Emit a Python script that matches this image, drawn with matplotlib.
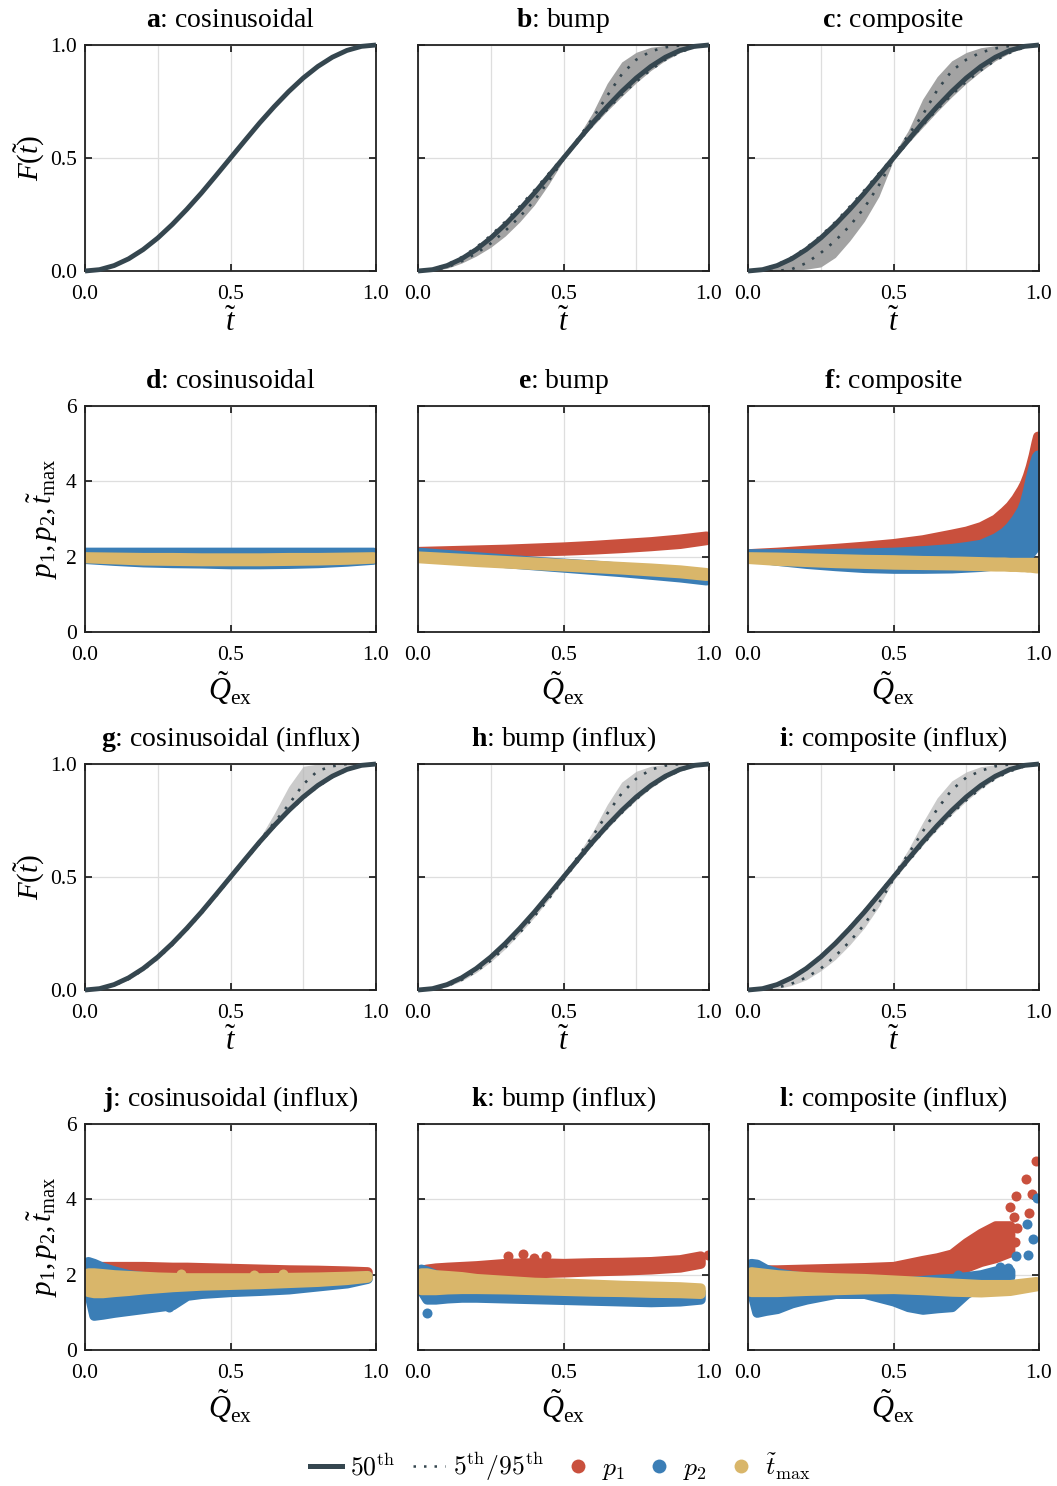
import matplotlib.pyplot as plt
from matplotlib.font_manager import FontProperties
from matplotlib.lines import Line2D
from matplotlib.ticker import FormatStrFormatter

plt.rcParams.update({
    "font.family": "Liberation Serif",
    "mathtext.fontset": "custom",
    "mathtext.rm": "Liberation Serif",
    "mathtext.it": "Liberation Serif:italic",
    "mathtext.bf": "Liberation Serif:bold",
})

MED = "#35464f"
C_P1 = "#c9503d"
C_P2 = "#3b7eb6"
C_TM = "#d9b66a"

# ---- CDF panels (a-c, g-i) ----
t_grid = [0, .05, .1, .15, .2, .25, .3, .35, .4, .45, .5,
          .55, .6, .65, .7, .75, .8, .85, .9, .95, 1]
median_cdf = [0, .006, .024, .054, .095, .146, .206, .273, .345, .422, .5,
              .578, .655, .727, .794, .854, .905, .946, .976, .994, 1]

b_env_hi = [0, .01, .032, .066, .11, .163, .225, .293, .364, .438, .51,
            .595, .70, .83, .925, .968, .99, .998, 1, 1, 1]
b_env_lo = [0, .002, .012, .035, .066, .105, .155, .218, .292, .385, .49,
            .57, .64, .708, .772, .833, .887, .932, .966, .99, 1]
b_q95 = [0, .008, .028, .061, .104, .157, .218, .286, .357, .432, .505,
         .585, .675, .775, .87, .935, .972, .99, .998, 1, 1]
b_q05 = [0, .003, .016, .043, .078, .122, .178, .24, .312, .4, .495,
         .572, .646, .715, .78, .838, .89, .935, .968, .991, 1]

c_env_hi = [0, .01, .03, .062, .105, .157, .22, .29, .362, .44, .515,
            .62, .76, .86, .93, .967, .988, .997, 1, 1, 1]
c_env_lo = [0, 0, 0, .002, .008, .018, .06, .134, .22, .33, .49,
            .565, .635, .705, .77, .83, .883, .93, .965, .99, 1]
c_q95 = [0, .008, .028, .06, .102, .155, .216, .285, .357, .432, .505,
         .6, .69, .8, .885, .935, .967, .985, .996, 1, 1]
c_q05 = [0, 0, 0, .008, .035, .08, .134, .2, .28, .38, .495,
         .57, .645, .715, .78, .838, .888, .932, .966, .99, 1]

g_env_hi = [0, .008, .028, .06, .102, .155, .216, .285, .357, .433, .51,
            .59, .67, .78, .9, .99, 1, 1, 1, 1, 1]
g_env_lo = [0, .003, .018, .045, .085, .135, .195, .262, .335, .412, .49,
            .568, .645, .718, .786, .846, .898, .94, .972, .992, 1]
g_q95 = [0, .006, .024, .054, .095, .146, .206, .273, .345, .422, .5,
         .58, .66, .74, .82, .91, .97, .99, 1, 1, 1]
g_q05 = [0, .004, .02, .049, .089, .14, .2, .267, .339, .416, .494,
         .572, .649, .722, .789, .849, .9, .942, .973, .993, 1]

h_env_hi = [0, .008, .028, .06, .102, .155, .217, .287, .36, .437, .515,
            .6, .7, .82, .92, .968, .99, .998, 1, 1, 1]
h_env_lo = [0, .002, .014, .04, .077, .125, .183, .25, .322, .402, .487,
            .567, .643, .713, .78, .84, .893, .936, .968, .99, 1]
h_q95 = [0, .006, .025, .056, .097, .148, .208, .275, .347, .425, .505,
         .59, .68, .78, .87, .935, .975, .993, 1, 1, 1]
h_q05 = [0, .004, .018, .045, .083, .13, .188, .254, .326, .405, .49,
         .57, .647, .718, .784, .845, .897, .94, .971, .992, 1]

i_env_hi = [0, .01, .03, .063, .106, .158, .22, .29, .362, .44, .515,
            .62, .74, .85, .925, .965, .988, .997, 1, 1, 1]
i_env_lo = [0, .001, .006, .02, .045, .085, .135, .2, .275, .37, .485,
            .565, .64, .71, .776, .836, .89, .934, .967, .99, 1]
i_q95 = [0, .007, .026, .057, .098, .15, .21, .278, .35, .428, .505,
         .6, .7, .8, .885, .94, .97, .99, .998, 1, 1]
i_q05 = [0, .002, .01, .028, .055, .095, .15, .215, .29, .385, .49,
         .568, .644, .715, .78, .84, .892, .936, .968, .99, 1]

# ---- parameter panels (d-f, j-l): lower/upper edge of each point cloud ----
d_x = [0, .1, .2, .3, .4, .5, .6, .7, .8, .9, .99]
d_p1_lo = [2.0, 2.0, 2.0, 2.0, 2.0, 2.0, 2.0, 2.0, 2.0, 2.0, 2.0]
d_p1_hi = [2.08, 2.08, 2.08, 2.08, 2.08, 2.08, 2.08, 2.08, 2.08, 2.08, 2.08]
d_p2_lo = [1.95, 1.9, 1.86, 1.84, 1.83, 1.81, 1.81, 1.82, 1.84, 1.88, 1.93]
d_p2_hi = [2.12, 2.12, 2.12, 2.12, 2.12, 2.12, 2.12, 2.12, 2.12, 2.12, 2.12]
d_tm_lo = [1.97, 1.94, 1.91, 1.9, 1.89, 1.89, 1.89, 1.9, 1.91, 1.93, 1.96]
d_tm_hi = [2.0, 1.99, 1.98, 1.98, 1.97, 1.97, 1.97, 1.98, 1.98, 1.99, 2.0]

e_x = [0, .1, .2, .3, .4, .5, .6, .7, .8, .9, .99]
e_p1_lo = [2.1, 2.1, 2.11, 2.13, 2.15, 2.17, 2.2, 2.24, 2.29, 2.35, 2.45]
e_p1_hi = [2.14, 2.16, 2.18, 2.2, 2.23, 2.26, 2.3, 2.35, 2.4, 2.47, 2.55]
e_p2_lo = [2.05, 1.98, 1.91, 1.84, 1.78, 1.72, 1.66, 1.6, 1.53, 1.46, 1.38]
e_p2_hi = [2.12, 2.06, 2.0, 1.94, 1.88, 1.83, 1.78, 1.72, 1.66, 1.6, 1.52]
e_tm_lo = [1.97, 1.92, 1.87, 1.83, 1.79, 1.75, 1.71, 1.67, 1.62, 1.57, 1.5]
e_tm_hi = [2.02, 1.98, 1.94, 1.9, 1.86, 1.82, 1.78, 1.74, 1.7, 1.65, 1.58]

f_x = [0, .1, .2, .3, .4, .5, .6, .7, .75, .8, .85, .88, .9, .92, .94,
       .95, .96, .97, .98, .99, .995]
f_p1_lo = [2.0, 2.0, 2.0, 2.0, 2.0, 2.0, 2.0, 2.0, 2.0, 2.0, 2.05, 2.1,
           2.15, 2.2, 2.3, 2.4, 2.5, 2.6, 2.8, 3.0, 3.3]
f_p1_hi = [2.08, 2.12, 2.17, 2.22, 2.28, 2.35, 2.45, 2.6, 2.68, 2.8, 3.0,
           3.2, 3.35, 3.55, 3.8, 3.95, 4.15, 4.4, 4.7, 5.05, 5.2]
f_p2_lo = [2.0, 1.9, 1.82, 1.76, 1.71, 1.69, 1.69, 1.7, 1.72, 1.74, 1.78,
           1.8, 1.83, 1.88, 1.92, 1.95, 2.0, 2.1, 2.2, 2.3, 2.4]
f_p2_hi = [2.08, 2.08, 2.08, 2.09, 2.1, 2.12, 2.16, 2.22, 2.27, 2.33, 2.5,
           2.65, 2.8, 3.0, 3.25, 3.45, 3.75, 4.1, 4.4, 4.65, 4.7]
f_tm_lo = [1.95, 1.9, 1.87, 1.84, 1.82, 1.8, 1.79, 1.78, 1.77, 1.76, 1.75,
           1.75, 1.74, 1.74, 1.73, 1.73, 1.72, 1.72, 1.71, 1.7, 1.7]
f_tm_hi = [2.0, 1.99, 1.97, 1.95, 1.93, 1.92, 1.9, 1.89, 1.88, 1.87, 1.86,
           1.86, 1.85, 1.85, 1.85, 1.85, 1.85, 1.85, 1.85, 1.85, 1.85]

j_x = [.01, .03, .06, .1, .15, .2, .25, .3, .35, .4, .5, .6, .7, .8, .9, .97]
j_p1_lo = [1.95, 1.95, 1.95, 1.95, 1.95, 1.95, 1.95, 1.95, 1.95, 1.95,
           1.95, 1.95, 1.97, 1.98, 2.0, 2.0]
j_p1_hi = [2.1, 2.2, 2.22, 2.22, 2.22, 2.22, 2.21, 2.2, 2.2, 2.19, 2.17,
           2.15, 2.13, 2.12, 2.1, 2.08]
j_p2_lo = [1.6, 0.92, 0.95, 1.0, 1.05, 1.1, 1.15, 1.2, 1.45, 1.5, 1.55,
           1.58, 1.62, 1.7, 1.78, 1.9]
j_p2_hi = [2.35, 2.3, 2.2, 2.1, 2.0, 1.95, 1.92, 1.9, 1.88, 1.87, 1.85,
           1.85, 1.86, 1.88, 1.92, 1.98]
j_tm_lo = [1.55, 1.52, 1.52, 1.55, 1.58, 1.62, 1.65, 1.68, 1.7, 1.72, 1.74,
           1.76, 1.79, 1.82, 1.87, 1.93]
j_tm_hi = [2.05, 2.05, 2.03, 2.0, 1.98, 1.96, 1.94, 1.93, 1.92, 1.92, 1.92,
           1.92, 1.93, 1.94, 1.96, 1.98]
j_p2_ex_x, j_p2_ex_y = [0.29], [1.15]
j_tm_ex_x, j_tm_ex_y = [0.33, 0.58, 0.68], [2.02, 2.0, 2.02]

k_x = [.01, .03, .06, .1, .15, .2, .3, .4, .5, .6, .7, .8, .9, .97]
k_p1_lo = [1.95, 1.95, 1.97, 2.0, 2.0, 2.0, 2.02, 2.05, 2.07, 2.1, 2.12,
           2.15, 2.2, 2.3]
k_p1_hi = [2.12, 2.15, 2.18, 2.2, 2.22, 2.24, 2.3, 2.32, 2.3, 2.32, 2.33,
           2.35, 2.4, 2.5]
k_p2_lo = [1.6, 1.35, 1.35, 1.38, 1.4, 1.4, 1.38, 1.36, 1.34, 1.32, 1.3,
           1.28, 1.3, 1.35]
k_p2_hi = [2.15, 2.1, 2.0, 1.9, 1.85, 1.8, 1.75, 1.7, 1.68, 1.65, 1.62,
           1.6, 1.58, 1.55]
k_tm_lo = [1.6, 1.6, 1.6, 1.62, 1.63, 1.63, 1.62, 1.6, 1.58, 1.56, 1.55,
           1.53, 1.52, 1.5]
k_tm_hi = [2.05, 2.05, 2.0, 1.98, 1.95, 1.9, 1.85, 1.8, 1.78, 1.75, 1.72,
           1.7, 1.68, 1.65]
k_p1_ex_x, k_p1_ex_y = [0.31, 0.36, 0.40, 0.44, 0.995], [2.5, 2.55, 2.45, 2.5, 2.52]
k_p2_ex_x, k_p2_ex_y = [0.03], [0.98]

l_x = [.01, .03, .06, .1, .15, .2, .3, .4, .5, .55, .6, .65, .7, .75, .8,
       .85, .9]
l_p1_lo = [1.95, 1.95, 1.97, 1.98, 1.98, 1.98, 1.98, 1.98, 1.98, 1.98,
           1.98, 2.0, 2.1, 2.2, 2.35, 2.45, 2.6]
l_p1_hi = [2.08, 2.13, 2.13, 2.13, 2.14, 2.15, 2.17, 2.19, 2.22, 2.3, 2.38,
           2.45, 2.55, 2.85, 3.1, 3.3, 3.3]
l_p2_lo = [1.6, 1.0, 1.05, 1.1, 1.25, 1.35, 1.5, 1.5, 1.3, 1.15, 1.08,
           1.12, 1.15, 1.5, 1.7, 1.85, 1.95]
l_p2_hi = [2.3, 2.28, 2.15, 2.05, 1.98, 1.92, 1.88, 1.85, 1.82, 1.82, 1.85,
           1.88, 1.9, 1.95, 2.0, 2.1, 2.1]
l_tm_x = [.01, .1, .2, .3, .4, .5, .6, .7, .8, .9, .99]
l_tm_lo = [1.55, 1.55, 1.58, 1.6, 1.62, 1.63, 1.6, 1.56, 1.54, 1.58, 1.7]
l_tm_hi = [2.08, 2.0, 1.95, 1.92, 1.9, 1.86, 1.82, 1.78, 1.74, 1.74, 1.82]
l_p1_ex_x = [0.991, 0.956, 0.920, 0.977, 0.902, 0.914, 0.964, 0.925, 0.916]
l_p1_ex_y = [5.02, 4.55, 4.10, 4.15, 3.79, 3.52, 3.65, 3.24, 2.88]
l_p2_ex_x = [0.994, 0.960, 0.979, 0.962, 0.920, 0.893, 0.865, 0.834, 0.723]
l_p2_ex_y = [4.04, 3.34, 2.94, 2.52, 2.50, 2.17, 2.21, 1.99, 2.0]

# ---- layout in pixels ----
W, H = 1057, 1486
col_left = [85, 418, 748]
row_top = [45, 406, 764, 1124]
ax_w, ax_h = 291, 226

fig = plt.figure(figsize=(W / 100, H / 100), dpi=100)


def make_ax(r, c):
    return fig.add_axes([col_left[c] / W, 1 - (row_top[r] + ax_h) / H,
                         ax_w / W, ax_h / H])


def base_style(ax, title):
    ax.set_xlim(0, 1)
    ax.tick_params(which="major", direction="in", top=True, right=True,
                   length=5, width=1.1, labelsize=15.5)
    ax.tick_params(axis="x", pad=10)
    ax.tick_params(axis="y", pad=6)
    ax.tick_params(which="minor", length=0)
    for s in ax.spines.values():
        s.set_linewidth(1.3)
        s.set_color("#222222")
    ax.set_axisbelow(True)
    ax.set_xticks([0, 0.5, 1])
    ax.xaxis.set_major_formatter(FormatStrFormatter("%.1f"))
    ax.set_title(title, fontsize=20, pad=13)


def cdf_panel(ax, title, env=None, q=None, band="#a3a3a3", band_alpha=1.0,
              ylabel=True):
    base_style(ax, title)
    ax.set_ylim(0, 1)
    ax.set_yticks([0, 0.5, 1])
    ax.set_xticks([0.25, 0.75], minor=True)
    ax.yaxis.set_major_formatter(FormatStrFormatter("%.1f"))
    ax.grid(which="both", axis="x", color="#dedede", lw=0.9)
    ax.grid(which="major", axis="y", color="#dedede", lw=0.9)
    if env is not None:
        ax.fill_between(t_grid, env[0], env[1], color=band, alpha=band_alpha,
                        lw=0)
    if q is not None:
        for qq in q:
            ax.plot(t_grid, qq, color=MED, lw=1.9, ls=(0, (1, 3.2)))
    ax.plot(t_grid, median_cdf, color=MED, lw=3.5, solid_capstyle="butt",
            clip_on=False, zorder=3)
    ax.set_xlabel(r"$\tilde{t}$", fontsize=22, labelpad=3)
    if ylabel:
        ax.set_ylabel(r"$F(\tilde{t})$", fontsize=21, labelpad=2)
    else:
        ax.set_yticklabels([])


def cloud(ax, color, x, lo, hi, ex_x=None, ex_y=None):
    # dense point cloud: filled envelope stroked with a marker-wide round pen
    ax.fill_between(x, lo, hi, facecolor=color, edgecolor=color, lw=7.2,
                    joinstyle="round", capstyle="round")
    if ex_x is not None:
        ax.scatter(ex_x, ex_y, s=52, color=color, lw=0)


def param_panel(ax, title, series, ylabel=True):
    base_style(ax, title)
    ax.set_ylim(0, 6)
    ax.set_yticks([0, 2, 4, 6])
    ax.yaxis.set_major_formatter(FormatStrFormatter("%d"))
    ax.grid(which="major", color="#dedede", lw=0.9)
    for color, data in zip([C_P1, C_P2, C_TM], series):
        cloud(ax, color, *data)
    ax.set_xlabel(r"$\tilde{Q}_{\mathrm{ex}}$", fontsize=22, labelpad=3)
    if ylabel:
        ax.set_ylabel(r"$p_1, p_2, \tilde{t}_{\max}$", fontsize=21, labelpad=4)
    else:
        ax.set_yticklabels([])


# row 1: outflux CDFs
cdf_panel(make_ax(0, 0), r"$\mathbf{a}$: cosinusoidal")
cdf_panel(make_ax(0, 1), r"$\mathbf{b}$: bump", (b_env_lo, b_env_hi),
          (b_q05, b_q95), ylabel=False)
cdf_panel(make_ax(0, 2), r"$\mathbf{c}$: composite", (c_env_lo, c_env_hi),
          (c_q05, c_q95), ylabel=False)

# row 2: fitted parameters
param_panel(make_ax(1, 0), r"$\mathbf{d}$: cosinusoidal",
            [(d_x, d_p1_lo, d_p1_hi), (d_x, d_p2_lo, d_p2_hi),
             (d_x, d_tm_lo, d_tm_hi)])
param_panel(make_ax(1, 1), r"$\mathbf{e}$: bump",
            [(e_x, e_p1_lo, e_p1_hi), (e_x, e_p2_lo, e_p2_hi),
             (e_x, e_tm_lo, e_tm_hi)], ylabel=False)
param_panel(make_ax(1, 2), r"$\mathbf{f}$: composite",
            [(f_x, f_p1_lo, f_p1_hi), (f_x, f_p2_lo, f_p2_hi),
             (f_x, f_tm_lo, f_tm_hi)], ylabel=False)

# row 3: influx CDFs
cdf_panel(make_ax(2, 0), r"$\mathbf{g}$: cosinusoidal (influx)",
          (g_env_lo, g_env_hi), (g_q05, g_q95), band="#b5b5b5", band_alpha=0.7)
cdf_panel(make_ax(2, 1), r"$\mathbf{h}$: bump (influx)",
          (h_env_lo, h_env_hi), (h_q05, h_q95), band="#b5b5b5", band_alpha=0.7,
          ylabel=False)
cdf_panel(make_ax(2, 2), r"$\mathbf{i}$: composite (influx)",
          (i_env_lo, i_env_hi), (i_q05, i_q95), band="#b5b5b5", band_alpha=0.7,
          ylabel=False)

# row 4: influx parameters
param_panel(make_ax(3, 0), r"$\mathbf{j}$: cosinusoidal (influx)",
            [(j_x, j_p1_lo, j_p1_hi),
             (j_x, j_p2_lo, j_p2_hi, j_p2_ex_x, j_p2_ex_y),
             (j_x, j_tm_lo, j_tm_hi, j_tm_ex_x, j_tm_ex_y)])
param_panel(make_ax(3, 1), r"$\mathbf{k}$: bump (influx)",
            [(k_x, k_p1_lo, k_p1_hi, k_p1_ex_x, k_p1_ex_y),
             (k_x, k_p2_lo, k_p2_hi, k_p2_ex_x, k_p2_ex_y),
             (k_x, k_tm_lo, k_tm_hi)], ylabel=False)
param_panel(make_ax(3, 2), r"$\mathbf{l}$: composite (influx)",
            [(l_x, l_p1_lo, l_p1_hi, l_p1_ex_x, l_p1_ex_y),
             (l_x, l_p2_lo, l_p2_hi, l_p2_ex_x, l_p2_ex_y),
             (l_tm_x, l_tm_lo, l_tm_hi)], ylabel=False)

handles = [
    Line2D([], [], color=MED, lw=3.6),
    Line2D([], [], color=MED, lw=1.8, ls=(0, (1, 3.2))),
    Line2D([], [], color=C_P1, marker="o", ls="", ms=10, mew=0),
    Line2D([], [], color=C_P2, marker="o", ls="", ms=10, mew=0),
    Line2D([], [], color=C_TM, marker="o", ls="", ms=10, mew=0),
]
labels = [r"$50^{\mathrm{th}}$", r"$5^{\mathrm{th}}/95^{\mathrm{th}}$",
          r"$p_1$", r"$p_2$", r"$\tilde{t}_{\max}$"]
fig.legend(handles, labels, loc="center", bbox_to_anchor=(0.53, 0.013),
           ncol=5, frameon=False, handlelength=1.25, handletextpad=0.3,
           columnspacing=0.7,
           prop=FontProperties(family="Liberation Serif", size=18.5,
                               math_fontfamily="cm"))

fig.savefig("out.png", dpi=100)
